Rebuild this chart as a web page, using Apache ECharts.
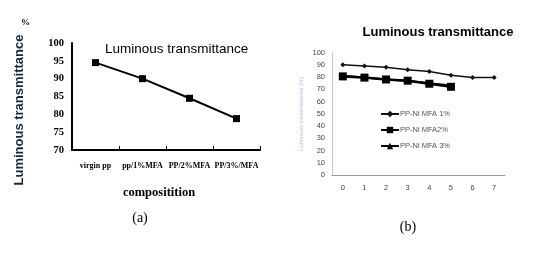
<!DOCTYPE html>
<html>
<head>
<meta charset="utf-8">
<script src="https://cdn.jsdelivr.net/npm/echarts@6/dist/echarts.min.js"></script>
<style>
  html, body { margin: 0; padding: 0; background: #fff; }
  #chart { width: 554px; height: 254px; }
</style>
</head>
<body>
<div id="chart"></div>
<script>
// panel (a)
var compositions = ['virgin pp', 'pp/1%MFA', 'PP/2%MFA', 'PP/3%/MFA'];
var transmittanceA = [94.5, 90, 84.5, 78.8];

// panel (b)
var stepsB = ['0', '1', '2', '3', '4', '5', '6', '7'];
var mfa1 = [90, 89, 88, 86, 84.5, 81.5, 79.5, 79.5];
var mfa2 = [80.5, 79.5, 78, 77, 74.5, 72];
var mfa3 = [81, 79.5, 78, 77, 75, 73];

var serif = 'Liberation Serif, serif';
var sans = 'Liberation Sans, Arial, sans-serif';

var chart = echarts.init(document.getElementById('chart'));

var option = {
  animation: false,
  backgroundColor: '#fff',
  grid: [
    { left: 72, top: 43, width: 188, height: 107 },
    { left: 332, top: 52.5, width: 173, height: 122.5 }
  ],
  legend: {
    orient: 'vertical',
    left: 375,
    top: 105,
    itemWidth: 18,
    itemHeight: 8,
    itemGap: 8,
    textStyle: { fontFamily: sans, fontSize: 7.5, color: '#555', padding: [0, 0, 0, -4] },
    data: ['PP-Ni MFA 1%', 'PP-Ni MFA2%', 'PP-Ni MFA 3%']
  },
  xAxis: [
    {
      gridIndex: 0,
      type: 'category',
      data: compositions,
      boundaryGap: true,
      axisLine: { lineStyle: { color: '#000', width: 2 } },
      axisTick: { show: true, inside: true, length: 4, lineStyle: { color: '#000', width: 1 } },
      axisLabel: { interval: 0, hideOverlap: false, fontFamily: serif, fontWeight: 'bold', fontSize: 8, color: '#000', margin: 12 },
      name: 'compositition',
      nameLocation: 'middle',
      nameGap: 36,
      nameTextStyle: { fontFamily: serif, fontWeight: 'bold', fontSize: 12.5, color: '#000', padding: [0, 14, 0, 0] }
    },
    {
      gridIndex: 1,
      type: 'category',
      data: stepsB,
      boundaryGap: true,
      axisLine: { lineStyle: { color: '#999', width: 1 } },
      axisTick: { show: false },
      axisLabel: { interval: 0, fontFamily: sans, fontSize: 7.5, color: '#444', margin: 9 }
    }
  ],
  yAxis: [
    {
      gridIndex: 0,
      type: 'value',
      min: 70,
      max: 100,
      interval: 5,
      splitLine: { show: false },
      axisLine: { show: true, lineStyle: { color: '#000', width: 2 } },
      axisTick: { show: false },
      axisLabel: { fontFamily: serif, fontWeight: 'bold', fontSize: 10.5, color: '#000', margin: 8 }
    },
    {
      gridIndex: 1,
      type: 'value',
      min: 0,
      max: 100,
      interval: 10,
      splitLine: { show: false },
      axisLine: { show: true, lineStyle: { color: '#c8c8c8', width: 1 } },
      axisTick: { show: false },
      axisLabel: { fontFamily: sans, fontSize: 7.5, color: '#4a4050', margin: 7 },
      name: 'Luminous transmittance (%)',
      nameLocation: 'middle',
      nameRotate: 90,
      nameGap: 28,
      nameTextStyle: { fontFamily: sans, fontSize: 6, color: '#a9c2e4' }
    }
  ],
  series: [
    {
      name: 'Luminous transmittance',
      type: 'line',
      xAxisIndex: 0,
      yAxisIndex: 0,
      data: transmittanceA,
      symbol: 'rect',
      symbolSize: 7,
      itemStyle: { color: '#000' },
      lineStyle: { color: '#000', width: 2 }
    },
    {
      name: 'PP-Ni MFA 3%',
      type: 'line',
      xAxisIndex: 1,
      yAxisIndex: 1,
      data: mfa3,
      symbol: 'triangle',
      symbolSize: 6,
      z: 2,
      itemStyle: { color: '#000' },
      lineStyle: { color: '#000', width: 2 }
    },
    {
      name: 'PP-Ni MFA 1%',
      type: 'line',
      xAxisIndex: 1,
      yAxisIndex: 1,
      data: mfa1,
      symbol: 'diamond',
      symbolSize: 5,
      z: 3,
      itemStyle: { color: '#0a1020' },
      lineStyle: { color: '#111', width: 1.5 }
    },
    {
      name: 'PP-Ni MFA2%',
      type: 'line',
      xAxisIndex: 1,
      yAxisIndex: 1,
      data: mfa2,
      symbol: 'rect',
      symbolSize: 8,
      z: 4,
      itemStyle: { color: '#000' },
      lineStyle: { color: '#000', width: 2.5 }
    }
  ],
  graphic: [
    {
      type: 'text', left: 105, top: 42,
      style: { text: 'Luminous transmittance', fontFamily: sans, fontSize: 13.5, fill: '#000' }
    },
    {
      type: 'text', x: 19, y: 110, rotation: Math.PI / 2,
      style: { text: 'Luminous transmittance', fontFamily: sans, fontWeight: 'bold', fontSize: 13, fill: '#1a2640', align: 'center', verticalAlign: 'middle' }
    },
    {
      type: 'text', left: 21, top: 18,
      style: { text: '%', fontFamily: serif, fontWeight: 'bold', fontSize: 9, fill: '#000' }
    },
    {
      type: 'text', x: 140, y: 218,
      style: { text: '(a)', fontFamily: serif, fontSize: 14, fill: '#000', align: 'center', verticalAlign: 'middle' }
    },
    {
      type: 'text', x: 438, y: 32,
      style: { text: 'Luminous transmittance', fontFamily: sans, fontWeight: 'bold', fontSize: 13, fill: '#000', align: 'center', verticalAlign: 'middle' }
    },
    {
      type: 'text', x: 408, y: 227,
      style: { text: '(b)', fontFamily: serif, fontSize: 14, fill: '#000', align: 'center', verticalAlign: 'middle' }
    }
  ]
};

chart.setOption(option);
</script>
</body>
</html>
